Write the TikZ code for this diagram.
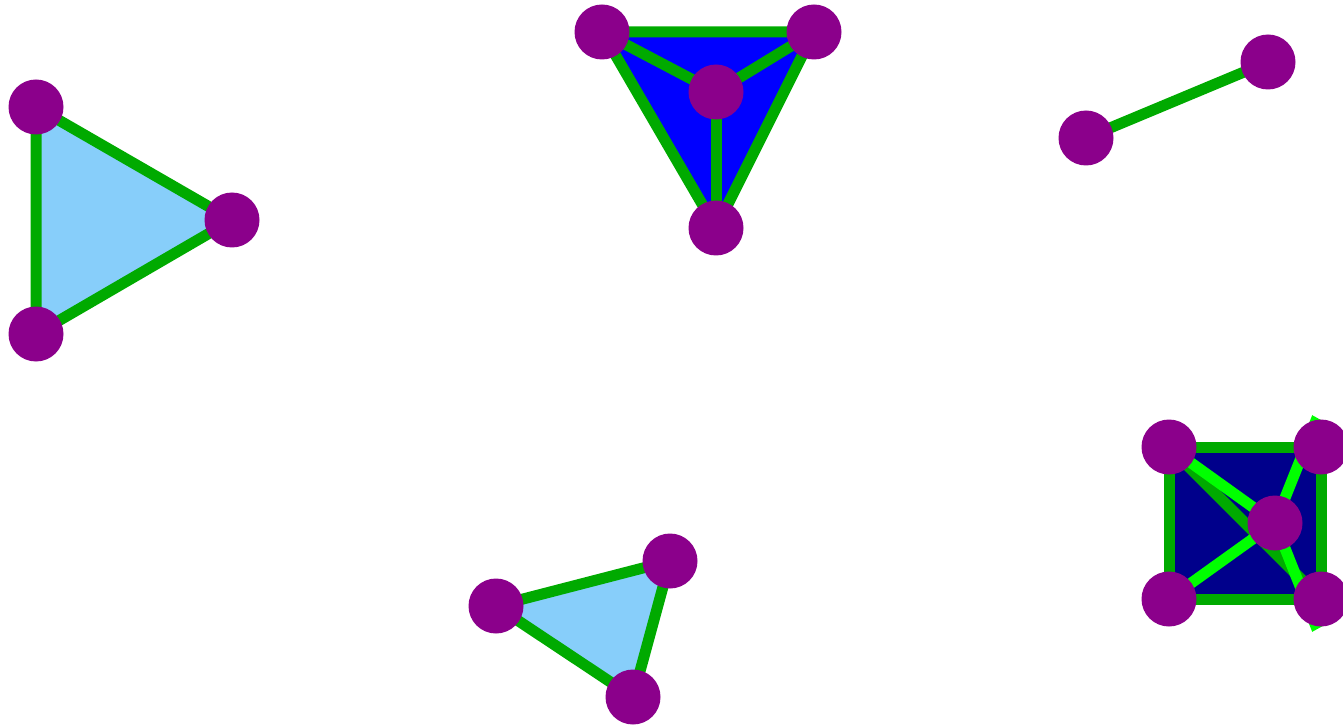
\documentclass[tikz,border=0pt]{standalone}
\usetikzlibrary{backgrounds}
\definecolor{vpurple}{RGB}{139,0,139}
\definecolor{dgreen}{RGB}{0,170,0}
\definecolor{bgreen}{RGB}{0,255,0}
\definecolor{lblue}{RGB}{135,206,250}
\definecolor{fblue}{RGB}{0,0,255}
\definecolor{nblue}{RGB}{0,0,139}
\tikzset{
  vertex/.style={circle, fill=vpurple, draw=none, inner sep=0pt, minimum size=55pt},
  edgeline/.style={draw=dgreen, line width=11pt},
  brightline/.style={draw=bgreen, line width=11pt},
}
\begin{document}
\begin{tikzpicture}[x=1pt,y=-1pt]
\useasboundingbox (0,0) rectangle (1343,727);
\clip (0,0) rectangle (1343,727);
% vertices
\node[vertex] (a1) at (36,107) {};
\node[vertex] (a2) at (232,220) {};
\node[vertex] (a3) at (36,334) {};
\node[vertex] (b1) at (602,32) {};
\node[vertex] (b2) at (814,32) {};
\node[vertex] (b3) at (716,92) {};
\node[vertex] (b4) at (716,228) {};
\node[vertex] (c1) at (1086,138) {};
\node[vertex] (c2) at (1268,62) {};
\node[vertex] (d1) at (496,606) {};
\node[vertex] (d2) at (670,561) {};
\node[vertex] (d3) at (633,697) {};
\node[vertex] (e1) at (1169,447) {};
\node[vertex] (e2) at (1321,447) {};
\node[vertex] (e3) at (1169,599) {};
\node[vertex] (e4) at (1321,599) {};
\node[vertex] (e5) at (1275,523) {};
\coordinate (v1) at (1315,423);
\coordinate (x1) at (1415,478);
\coordinate (v2) at (1315,624);
\coordinate (x2) at (1415,569);
\begin{pgfonlayer}{background}
  % triangle 1
  \fill[lblue] (a1.center) -- (a2.center) -- (a3.center) -- cycle;
  \draw[edgeline] (a1.center) -- (a2.center) -- (a3.center) -- cycle;
  % triangle 2
  \fill[fblue] (b1.center) -- (b2.center) -- (b4.center) -- cycle;
  \draw[edgeline] (b1.center) -- (b2.center) -- (b4.center) -- cycle;
  \draw[edgeline] (b1.center) -- (b3.center);
  \draw[edgeline] (b2.center) -- (b3.center);
  \draw[edgeline] (b3.center) -- (b4.center);
  % line
  \draw[edgeline] (c1.center) -- (c2.center);
  % triangle 3
  \fill[lblue] (d1.center) -- (d2.center) -- (d3.center) -- cycle;
  \draw[edgeline] (d1.center) -- (d2.center) -- (d3.center) -- cycle;
  % square
  \fill[nblue] (e1.center) -- (e2.center) -- (e4.center) -- (e3.center) -- cycle;
  \draw[edgeline] (e1.center) -- (e2.center) -- (e4.center) -- (e3.center) -- cycle;
  \draw[edgeline] (e1.center) -- (e4.center);
  \draw[brightline] (e1.center) -- (e5.center) -- (e3.center);
  \draw[brightline] (x1) -- (v1) -- (e5.center) -- (v2) -- (x2);
\end{pgfonlayer}
\end{tikzpicture}
\end{document}
